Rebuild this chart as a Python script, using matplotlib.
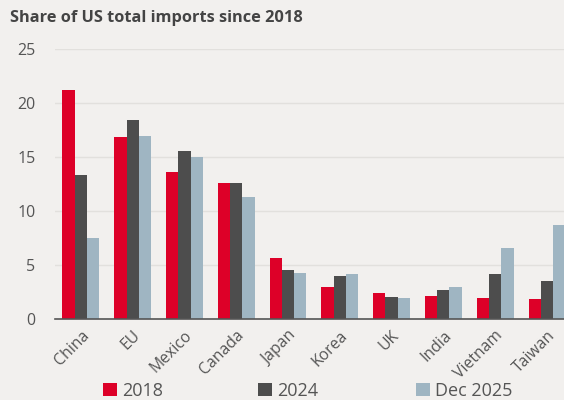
import matplotlib
matplotlib.use("Agg")
import matplotlib.pyplot as plt
import numpy as np
from matplotlib.patches import Patch

categories = ["China", "EU", "Mexico", "Canada", "Japan", "Korea", "UK", "India", "Vietnam", "Taiwan"]
s2018 = [21.2, 16.85, 13.6, 12.6, 5.7, 2.95, 2.45, 2.15, 1.95, 1.85]
s2024 = [13.4, 18.5, 15.55, 12.6, 4.55, 4.05, 2.1, 2.7, 4.2, 3.55]
sdec25 = [7.5, 16.95, 15.0, 11.3, 4.3, 4.2, 1.95, 2.95, 6.6, 8.7]
series_names = ["2018", "2024", "Dec 2025"]
yticks = [0, 5, 10, 15, 20, 25]

bg = "#f2f0ee"
colors = ["#dd0028", "#4d4d4d", "#9fb5c2"]
txt = "#555555"

plt.rcParams['font.family'] = ['Open Sans', 'DejaVu Sans']
fig = plt.figure(figsize=(5.64, 4.0), dpi=100, facecolor=bg)
ax = fig.add_axes([55/564, 1-319.3/400, 1-55/564, (319.3-49.3)/400], facecolor=bg)

x = np.arange(len(categories))
w = 0.237
for i, (vals, c) in enumerate(zip([s2018, s2024, sdec25], colors)):
    ax.bar(x + (i-1)*w, vals, width=w, color=c, label=series_names[i], zorder=3)

ax.set_xlim(-0.5, 9.33)
ax.set_ylim(0, 25)
ax.set_yticks(yticks)
ax.set_yticklabels([str(v) for v in yticks], fontsize=11.5, color=txt)
ax.grid(axis='y', color="#e2e0dd", linewidth=1, zorder=0)
ax.set_axisbelow(True)
for s in ["top", "right", "left"]:
    ax.spines[s].set_visible(False)
ax.spines["bottom"].set_color("#555555")
ax.spines["bottom"].set_linewidth(1.2)
ax.spines["bottom"].set_zorder(4)
ax.tick_params(axis='y', length=0, pad=14)
ax.tick_params(axis='x', length=0, pad=6)
ax.set_xticks(x)
ax.set_xticklabels(categories, rotation=45, ha='right', rotation_mode='anchor', fontsize=11.3, color=txt)

fig.text(10/564, 1-18/400, "Share of US total imports since 2018", fontsize=11.8, fontweight='bold',
         color="#444444", va='center', ha='left')

leg_x = [103, 258, 416]
for name, c, lx in zip(series_names, colors, leg_x):
    leg = fig.legend([Patch(facecolor=c, edgecolor='none')], [name], loc='center left',
                     bbox_to_anchor=(lx/564, 1-391/400), frameon=False,
                     fontsize=13, handlelength=0.75, handleheight=0.75, handletextpad=0.3,
                     borderaxespad=0, borderpad=0)
    for t in leg.get_texts():
        t.set_color(txt)

fig.savefig("out.png", dpi=100, facecolor=bg)
